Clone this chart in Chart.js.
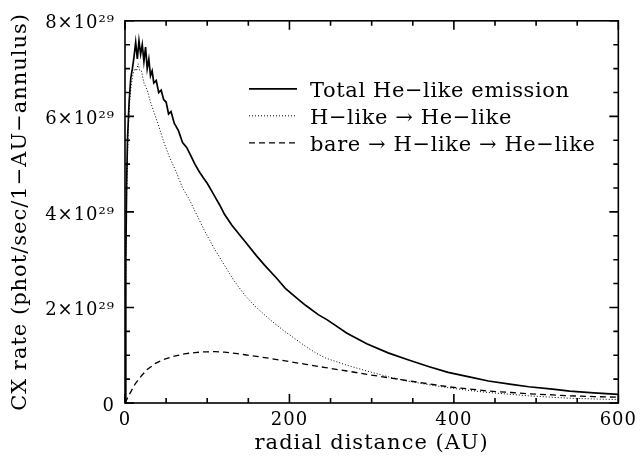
<!DOCTYPE html>
<html>
<head>
<meta charset="utf-8">
<script src="https://cdn.jsdelivr.net/npm/chart.js@4.4.1/dist/chart.umd.min.js"></script>
<style>
  html, body { margin: 0; padding: 0; background: #fff; }
</style>
</head>
<body>
<canvas id="cxChart" width="644" height="459"></canvas>
<script>
// radial distance (AU) vs CX rate, rates in units of 10^29 phot/sec/1-AU-annulus
const totalX = [0, 1, 2, 3, 5, 7, 9, 11, 13, 15, 17, 19, 21, 23, 25, 27, 29, 31, 33, 35, 38, 41, 44, 47, 50, 53, 56, 60, 65, 70, 75, 80, 85, 90, 95, 100, 105, 110, 115, 121, 130, 145, 160, 170, 185, 195, 210, 220, 235, 246, 270, 294, 320, 345, 370, 393, 420, 442, 470, 491, 520, 541, 570, 600];
const totalY = [0, 3.0, 4.6, 5.5, 6.3, 6.8, 7.0, 7.25, 7.55, 7.2, 7.58, 7.3, 7.5, 7.15, 7.45, 7.0, 7.2, 6.85, 6.95, 6.7, 6.75, 6.5, 6.55, 6.35, 6.3, 6.05, 6.1, 5.85, 5.7, 5.45, 5.35, 5.18, 5.0, 4.85, 4.72, 4.6, 4.45, 4.3, 4.15, 3.95, 3.72, 3.4, 3.08, 2.88, 2.6, 2.4, 2.18, 2.04, 1.85, 1.74, 1.46, 1.24, 1.05, 0.9, 0.76, 0.64, 0.54, 0.46, 0.39, 0.34, 0.29, 0.25, 0.21, 0.18];

const hlikeX = [0, 1, 2, 4, 6, 8, 10, 12, 14, 16, 18, 20, 23, 27, 31, 35, 41, 47, 54, 62, 70, 77, 87, 96, 108, 121, 133, 146, 158, 170, 183, 195, 208, 220, 232, 244, 270, 294, 320, 343, 370, 393, 420, 442, 470, 491, 520, 541, 570, 600];
const hlikeY = [0, 3.0, 4.4, 5.8, 6.4, 6.7, 6.9, 7.0, 6.95, 7.1, 6.95, 6.95, 6.7, 6.55, 6.3, 6.1, 5.8, 5.47, 5.15, 4.85, 4.5, 4.3, 3.95, 3.63, 3.25, 2.88, 2.55, 2.25, 2.03, 1.84, 1.65, 1.49, 1.33, 1.18, 1.05, 0.94, 0.79, 0.67, 0.55, 0.46, 0.38, 0.32, 0.26, 0.22, 0.18, 0.15, 0.12, 0.10, 0.085, 0.07];

const bareX = [0, 5, 12, 20, 27, 37, 47, 58, 72, 85, 96, 110, 121, 134, 146, 170, 195, 220, 244, 270, 294, 320, 343, 370, 393, 420, 442, 470, 491, 520, 541, 570, 600];
const bareY = [0, 0.17, 0.39, 0.57, 0.70, 0.83, 0.91, 0.97, 1.03, 1.055, 1.07, 1.075, 1.065, 1.04, 1.01, 0.95, 0.88, 0.81, 0.74, 0.67, 0.60, 0.53, 0.47, 0.40, 0.34, 0.29, 0.25, 0.22, 0.19, 0.17, 0.15, 0.135, 0.12];

const seriesLabels = ['Total He\u2212like emission', 'H\u2212like \u2192 He\u2212like', 'bare \u2192 H\u2212like \u2192 He\u2212like'];
const xTickLabels = [0, 200, 400, 600];
const yTickLabels = [0, 2, 4, 6, 8];

const FONT = 'DejaVu Serif';

function pts(xs, ys) {
    return xs.map((x, i) => ({ x: x, y: ys[i] }));
}

// wide lettering like the original plot
const spacingPlugin = {
    id: 'spacing',
    beforeLayout(chart) { chart.ctx.letterSpacing = '1px'; },
    beforeDraw(chart) { chart.ctx.letterSpacing = '1px'; }
};

// frame with inward ticks on all four sides
const framePlugin = {
    id: 'frame',
    afterDatasetsDraw(chart) {
        const ctx = chart.ctx;
        const a = chart.chartArea;
        const xs = chart.scales.x, ys = chart.scales.y;
        ctx.save();
        ctx.strokeStyle = '#000';
        ctx.lineWidth = 1.6;
        ctx.setLineDash([]);
        ctx.strokeRect(a.left, a.top, a.right - a.left, a.bottom - a.top);
        ctx.beginPath();
        xs.ticks.forEach(t => {
            const px = xs.getPixelForValue(t.value);
            const len = xTickLabels.includes(t.value) ? 9 : 5;
            ctx.moveTo(px, a.bottom); ctx.lineTo(px, a.bottom - len);
            ctx.moveTo(px, a.top); ctx.lineTo(px, a.top + len);
        });
        ys.ticks.forEach(t => {
            const py = ys.getPixelForValue(t.value);
            const len = yTickLabels.includes(t.value) ? 9 : 5;
            ctx.moveTo(a.left, py); ctx.lineTo(a.left + len, py);
            ctx.moveTo(a.right, py); ctx.lineTo(a.right - len, py);
        });
        ctx.stroke();
        ctx.restore();
    }
};

// legend inside the plot, line sample then label
const legendPlugin = {
    id: 'insideLegend',
    afterDraw(chart) {
        const ctx = chart.ctx;
        const left = chart.chartArea.left;
        const top = chart.chartArea.top;
        ctx.save();
        ctx.letterSpacing = '0.6px';
        ctx.font = '21px "' + FONT + '"';
        ctx.fillStyle = '#000';
        ctx.textBaseline = 'alphabetic';
        chart.data.datasets.forEach((ds, i) => {
            const y = top + 68 + i * 27;
            ctx.strokeStyle = '#000';
            ctx.lineWidth = ds.borderWidth;
            ctx.setLineDash(ds.borderDash || []);
            ctx.beginPath();
            ctx.moveTo(left + 124, y);
            ctx.lineTo(left + 172, y);
            ctx.stroke();
            ctx.setLineDash([]);
            ctx.fillText(ds.label, left + 185, y + 8);
        });
        ctx.restore();
    }
};

new Chart(document.getElementById('cxChart'), {
    type: 'line',
    data: {
        datasets: [
            {
                label: seriesLabels[0],
                data: pts(totalX, totalY),
                borderColor: '#000',
                borderWidth: 1.7,
                borderDash: []
            },
            {
                label: seriesLabels[1],
                data: pts(hlikeX, hlikeY),
                borderColor: '#000',
                borderWidth: 1,
                borderDash: [1, 2]
            },
            {
                label: seriesLabels[2],
                data: pts(bareX, bareY),
                borderColor: '#000',
                borderWidth: 1.3,
                borderDash: [6, 4]
            }
        ]
    },
    options: {
        responsive: false,
        animation: false,
        layout: { padding: { top: 15, right: 19, left: 0, bottom: 0 } },
        elements: {
            point: { radius: 0 },
            line: { tension: 0, fill: false }
        },
        plugins: {
            legend: { display: false },
            tooltip: { enabled: false }
        },
        scales: {
            x: {
                type: 'linear',
                min: 0,
                max: 600,
                afterFit: s => { s.height = 56; },
                border: { display: false },
                grid: { display: false, drawTicks: false },
                ticks: {
                    stepSize: 50,
                    padding: 7,
                    color: '#000',
                    maxRotation: 0,
                    autoSkip: false,
                    font: { family: FONT, size: 18 },
                    callback: v => xTickLabels.includes(v) ? String(v) : ''
                },
                title: {
                    display: true,
                    text: 'radial distance (AU)',
                    color: '#000',
                    font: { family: FONT, size: 21 },
                    padding: { top: 0, bottom: 3 }
                }
            },
            y: {
                min: 0,
                max: 8,
                afterFit: s => { s.width = 125; },
                border: { display: false },
                grid: { display: false, drawTicks: false },
                ticks: {
                    stepSize: 0.5,
                    padding: 10,
                    labelOffset: 3,
                    color: '#000',
                    autoSkip: false,
                    font: { family: FONT, size: 18 },
                    callback: v => {
                        if (!yTickLabels.includes(v)) return '';
                        return v === 0 ? '0' : v + '\u00d710\u00b2\u2079';
                    }
                },
                title: {
                    display: true,
                    text: 'CX rate (phot/sec/1\u2212AU\u2212annulus)',
                    color: '#000',
                    font: { family: FONT, size: 21 },
                    padding: { top: 8, bottom: 0 }
                }
            }
        }
    },
    plugins: [spacingPlugin, framePlugin, legendPlugin]
});
</script>
</body>
</html>
